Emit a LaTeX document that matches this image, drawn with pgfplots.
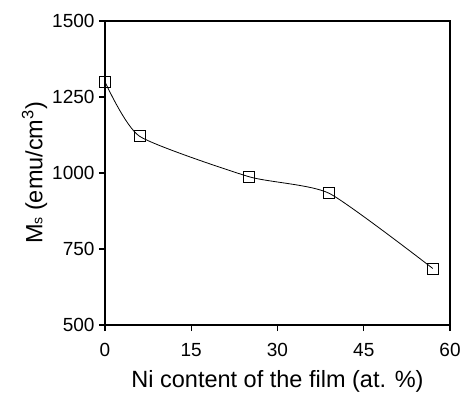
\documentclass[border=0pt]{standalone}
\usepackage{pgfplots}
\pgfplotsset{compat=1.18}
\usepackage{fontspec}
\setmainfont{Liberation Sans}
\newcommand{\tickfont}{\fontsize{19}{21}\selectfont}
\begin{document}
\begin{tikzpicture}
\begin{axis}[
  scale only axis,
  width=345pt, height=304pt,
  xmin=0, xmax=60, ymin=500, ymax=1500,
  xtick={0,15,30,45,60},
  ytick={500,750,1000,1250,1500},
  xticklabels={0,15,30,45,60},
  yticklabels={500,750,1000,1250,1500},
  tick align=outside,
  tick pos=left,
  major tick length=6pt,
  axis line style={line width=1.1pt},
  every tick/.style={line width=1.1pt, black},
  tick label style={font=\tickfont},
  xticklabel style={yshift=-9pt},
  yticklabel style={xshift=-1pt},
  xlabel={Ni content of the film (at. \%)},
  ylabel={M{\fontsize{14}{16}\selectfont s} (emu/cm\textsuperscript{3})},
  xlabel style={font=\fontsize{23.5}{26}\selectfont, yshift=-7pt},
  ylabel style={font=\fontsize{23.5}{26}\selectfont, yshift=-2pt},
]
\addplot[black, line width=0.8pt, smooth, tension=0.35, mark=square, mark size=5.5pt,
  mark options={line width=0.9pt, solid}]
  coordinates {(0,1300) (6,1121) (25,988) (39,933) (57,686)};
\end{axis}
\pgfresetboundingbox
\useasboundingbox (current axis.south west) ++(-105pt,-70pt) rectangle ++(462pt,395pt);
\end{tikzpicture}
\end{document}
